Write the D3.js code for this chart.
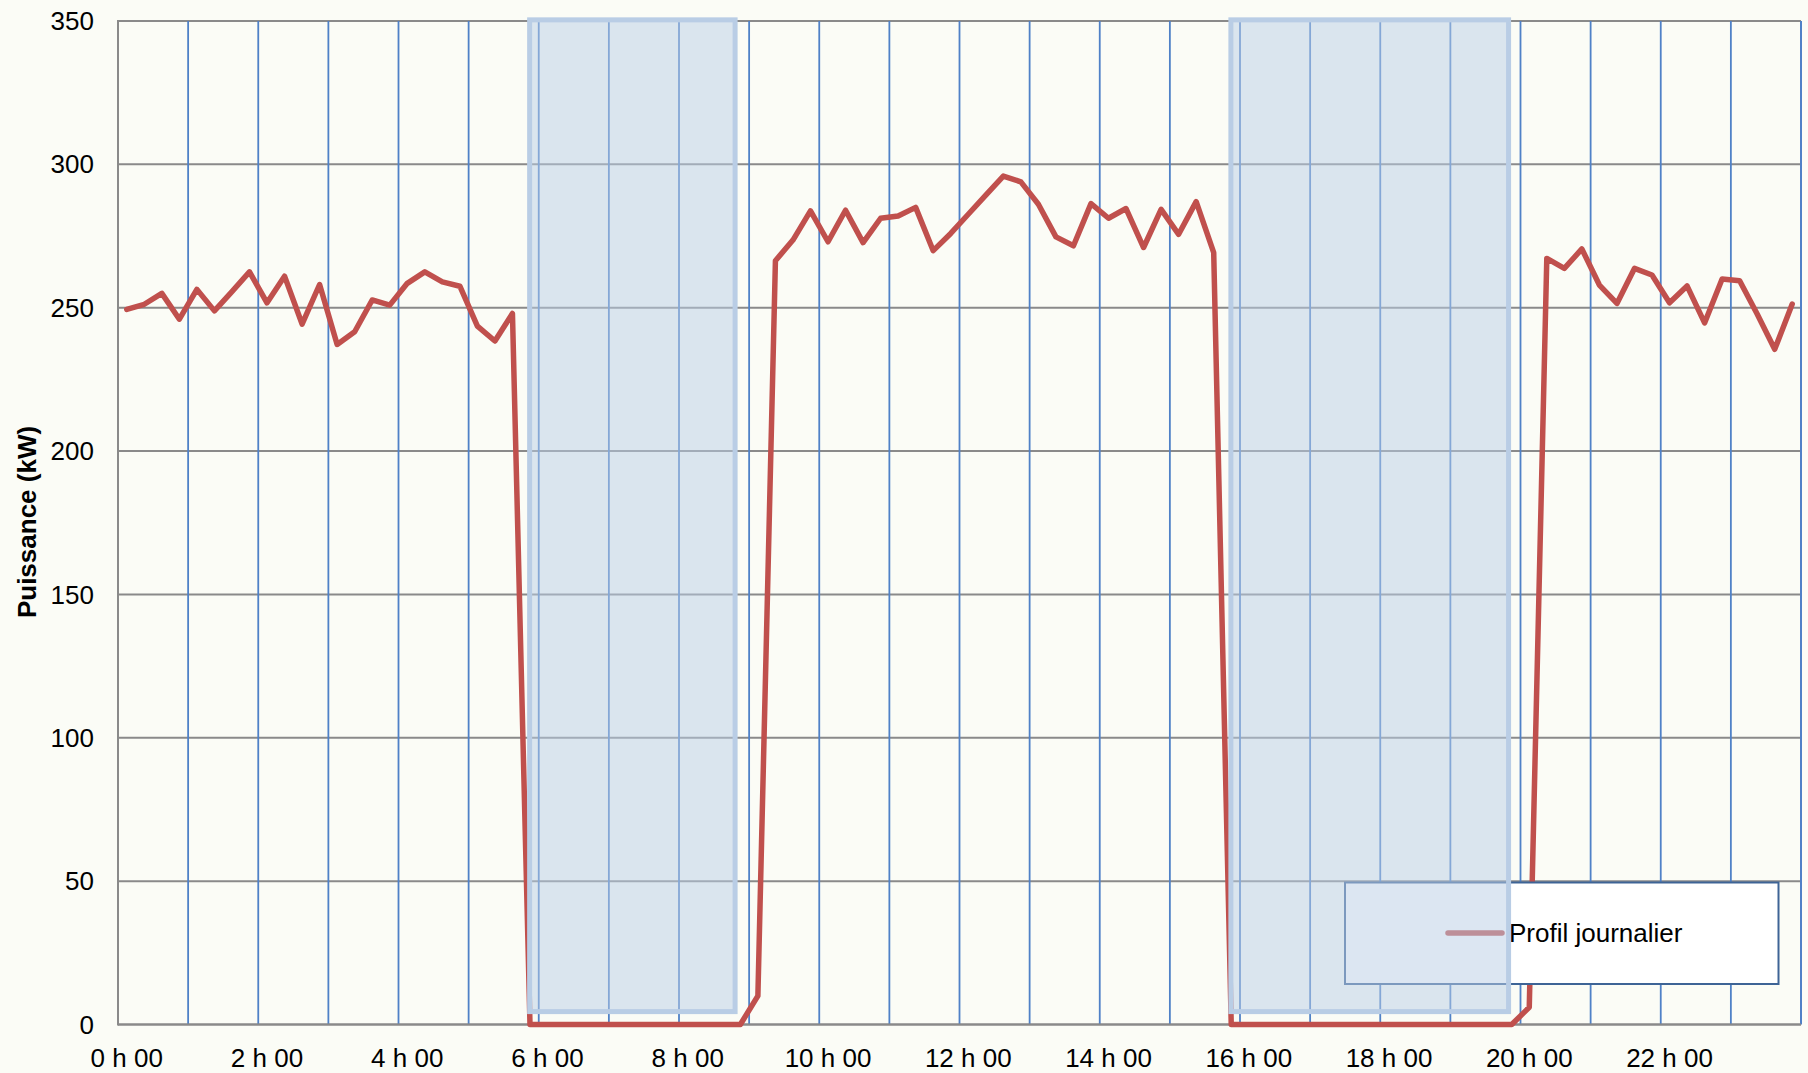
<!DOCTYPE html>
<html>
<head>
<meta charset="utf-8">
<script src="https://cdn.jsdelivr.net/npm/d3@7"></script>
<style>
  html, body { margin: 0; padding: 0; background: #fbfcf6; }
  svg { display: block; }
  text { font-family: "Liberation Sans", Arial, sans-serif; fill: #000; }
</style>
</head>
<body>
<svg id="chart" width="1808" height="1073"></svg>
<script>
// ---- Data (15-minute slots, kW) ----
const slotsPerHour = 4;
const categories = d3.range(96).map(i => `${Math.floor(i / 4)} h ${String((i % 4) * 15).padStart(2, "0")}`);
const profilJournalier = [
  249.4, 251.2, 255.0, 246.0, 256.4, 248.9, 255.6, 262.5, 251.7, 261.0, 244.3, 258.1,
  237.2, 241.6, 252.7, 250.9, 258.5, 262.5, 259.0, 257.5, 243.6, 238.4, 248.0,
  0, 0, 0, 0, 0, 0, 0, 0, 0, 0, 0, 0, 0,
  10.0,
  266.4, 273.6, 283.8, 273.0, 284.0, 272.7, 281.2, 282.0, 285.0, 269.9, 275.9, 282.6,
  289.3, 295.9, 293.9, 286.1, 274.7, 271.6, 286.3, 281.2, 284.6, 271.0, 284.3, 275.6,
  287.0, 269.2,
  0, 0, 0, 0, 0, 0, 0, 0, 0, 0, 0, 0, 0, 0, 0, 0, 0,
  6.0,
  267.2, 263.7, 270.5, 257.9, 251.5, 263.7, 261.4, 251.7, 257.6, 244.7, 260.0, 259.4,
  247.8, 235.5, 251.3
];
const xTickLabels = ["0 h 00", "2 h 00", "4 h 00", "6 h 00", "8 h 00", "10 h 00",
                     "12 h 00", "14 h 00", "16 h 00", "18 h 00", "20 h 00", "22 h 00"];
const yTicks = [0, 50, 100, 150, 200, 250, 300, 350];
const seriesName = "Profil journalier";
const yTitle = "Puissance (kW)";
// shaded periods [start hour, end hour] and their kW extent
const shadedPeriods = [[5.87, 8.80], [15.87, 19.83]];
const shadedRange = [4.5, 350.4];

// ---- Layout ----
const plot = { left: 118, right: 1801, top: 21, bottom: 1024.5 };
const svg = d3.select("#chart");

const x = d3.scaleBand().domain(d3.range(categories.length)).range([plot.left, plot.right]).paddingInner(0).paddingOuter(0);
const xc = i => x(i) + x.bandwidth() / 2;
const xHour = d3.scaleLinear().domain([0, 24]).range([plot.left, plot.right]);
const y = d3.scaleLinear().domain([0, 350]).range([plot.bottom, plot.top]);

svg.append("rect").attr("width", 1808).attr("height", 1073).attr("fill", "#fbfcf6");

// horizontal gridlines
svg.append("g").selectAll("line").data(yTicks).join("line")
  .attr("x1", plot.left).attr("x2", plot.right)
  .attr("y1", d => y(d)).attr("y2", d => y(d))
  .attr("stroke", "#8a8a8a").attr("stroke-width", 2);

// vertical gridlines every hour
const hourIdx = d3.range(slotsPerHour, categories.length, slotsPerHour);
svg.append("g").selectAll("line").data(hourIdx).join("line")
  .attr("x1", d => x(d)).attr("x2", d => x(d))
  .attr("y1", plot.top).attr("y2", plot.bottom)
  .attr("stroke", "#4f81c7").attr("stroke-width", 1.8);
svg.append("line").attr("x1", plot.right).attr("x2", plot.right)
  .attr("y1", plot.top).attr("y2", plot.bottom)
  .attr("stroke", "#4f81c7").attr("stroke-width", 2);

// axes lines
svg.append("line").attr("x1", plot.left).attr("x2", plot.left)
  .attr("y1", plot.top - 1).attr("y2", plot.bottom + 1)
  .attr("stroke", "#8a8a8a").attr("stroke-width", 2);
svg.append("line").attr("x1", plot.left).attr("x2", plot.right)
  .attr("y1", y(0)).attr("y2", y(0))
  .attr("stroke", "#8a8a8a").attr("stroke-width", 2);

// y tick labels
svg.append("g").selectAll("text").data(yTicks).join("text")
  .attr("x", 94).attr("y", d => y(d)).attr("dy", "0.35em")
  .attr("text-anchor", "end").attr("font-size", 26).text(d => d);

// x tick labels
svg.append("g").selectAll("text").data(xTickLabels).join("text")
  .attr("x", (d, i) => xc(i * 8)).attr("y", 1067)
  .attr("text-anchor", "middle").attr("font-size", 26).text(d => d);

// y title
svg.append("text").attr("transform", "translate(36,522) rotate(-90)")
  .attr("text-anchor", "middle").attr("font-size", 26).attr("font-weight", "bold")
  .text(yTitle);

// data line
const line = d3.line().x((d, i) => xc(i)).y(d => y(d));
svg.append("path").datum(profilJournalier).attr("d", line)
  .attr("fill", "none").attr("stroke", "#c0504d").attr("stroke-width", 5.5)
  .attr("stroke-linejoin", "round").attr("stroke-linecap", "round");

// legend
const lg = svg.append("g");
lg.append("rect").attr("x", 1345).attr("y", 882.5).attr("width", 433.5).attr("height", 101.5)
  .attr("fill", "#ffffff").attr("stroke", "#3e6496").attr("stroke-width", 2);
lg.append("line").attr("x1", 1448).attr("x2", 1502).attr("y1", 933).attr("y2", 933)
  .attr("stroke", "#c0504d").attr("stroke-width", 5.5).attr("stroke-linecap", "round");
lg.append("text").attr("x", 1509).attr("y", 942).attr("font-size", 26).text(seriesName);

// shaded periods (drawn on top)
svg.append("g").selectAll("rect").data(shadedPeriods).join("rect")
  .attr("x", d => xHour(d[0])).attr("width", d => xHour(d[1]) - xHour(d[0]))
  .attr("y", y(shadedRange[1])).attr("height", y(shadedRange[0]) - y(shadedRange[1]))
  .attr("fill", "#b9cde5").attr("fill-opacity", 0.5)
  .attr("stroke", "#b9cde5").attr("stroke-width", 5);
</script>
</body>
</html>
